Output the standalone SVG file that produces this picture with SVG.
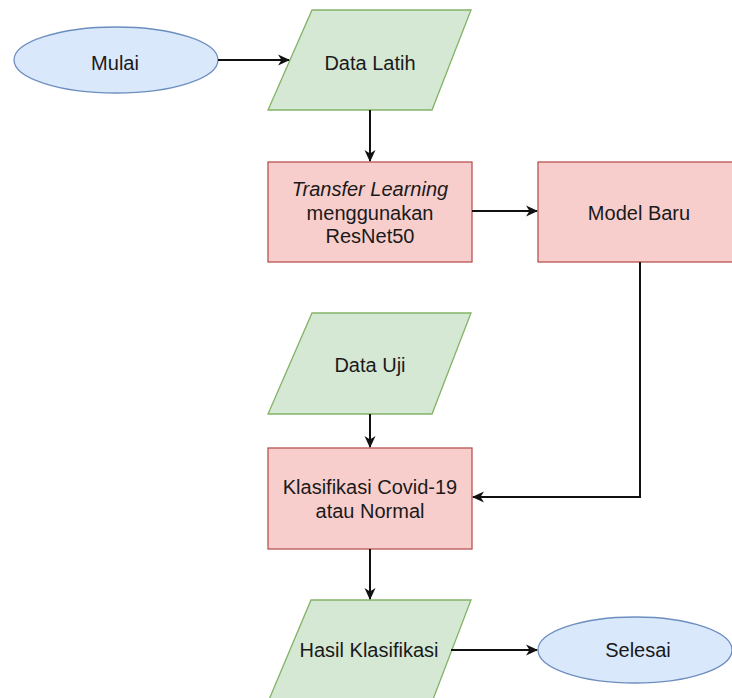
<svg xmlns="http://www.w3.org/2000/svg" width="732" height="698" viewBox="0 0 732 698">
<style>
text{font-family:"Liberation Sans",Arial,sans-serif;font-size:20px;fill:#1a1a1a;text-anchor:middle}
.term{fill:#dae8fc;stroke:#6c8ebf;stroke-width:1.3}
.io{fill:#d5e8d4;stroke:#82b366;stroke-width:1.3}
.proc{fill:#f8cecc;stroke:#b85450;stroke-width:1.3}
.edge{fill:none;stroke:#111;stroke-width:2}
</style>
<defs>
<marker id="arr" viewBox="0 0 12 12" refX="11" refY="6" markerWidth="12" markerHeight="12" markerUnits="userSpaceOnUse" orient="auto">
<path d="M0,0.5 L12,6 L0,11.5 L3.5,6 z" fill="#111"/>
</marker>
</defs>
<rect width="732" height="698" fill="#fff"/>
<g id="mulai"><ellipse class="term" cx="116" cy="60" rx="102" ry="33"/><text x="115" y="70">Mulai</text></g>
<g id="data-latih"><polygon class="io" points="312,10 471,10 432,110 268,110"/><text x="370" y="70">Data Latih</text></g>
<g id="transfer"><rect class="proc" x="268" y="162" width="204" height="100"/><text x="370" y="196" font-style="italic">Transfer Learning</text><text x="370" y="220">menggunakan</text><text x="370" y="243">ResNet50</text></g>
<g id="model-baru"><rect class="proc" x="538" y="162" width="200" height="100"/><text x="639" y="220">Model Baru</text></g>
<g id="data-uji"><polygon class="io" points="312,313 471,313 432,414 268,414"/><text x="370" y="372">Data Uji</text></g>
<g id="klasifikasi"><rect class="proc" x="268" y="448" width="204" height="101"/><text x="370" y="494">Klasifikasi Covid-19</text><text x="370" y="518">atau Normal</text></g>
<g id="hasil"><polygon class="io" points="311,600 471,600 432,702 268,702"/><text x="369" y="657">Hasil Klasifikasi</text></g>
<g id="selesai"><ellipse class="term" cx="635" cy="650" rx="97" ry="33"/><text x="638" y="657">Selesai</text></g>
<g id="connectors">
<path class="edge" d="M218,60 L289,60" marker-end="url(#arr)"/>
<path class="edge" d="M370,110 L370,161" marker-end="url(#arr)"/>
<path class="edge" d="M472,211 L537,211" marker-end="url(#arr)"/>
<path class="edge" d="M370,414 L370,447" marker-end="url(#arr)"/>
<path class="edge" d="M640,262 L640,497 L473,497" marker-end="url(#arr)"/>
<path class="edge" d="M370,549 L370,599" marker-end="url(#arr)"/>
<path class="edge" d="M451,650 L537,650" marker-end="url(#arr)"/>
</g>
</svg>
